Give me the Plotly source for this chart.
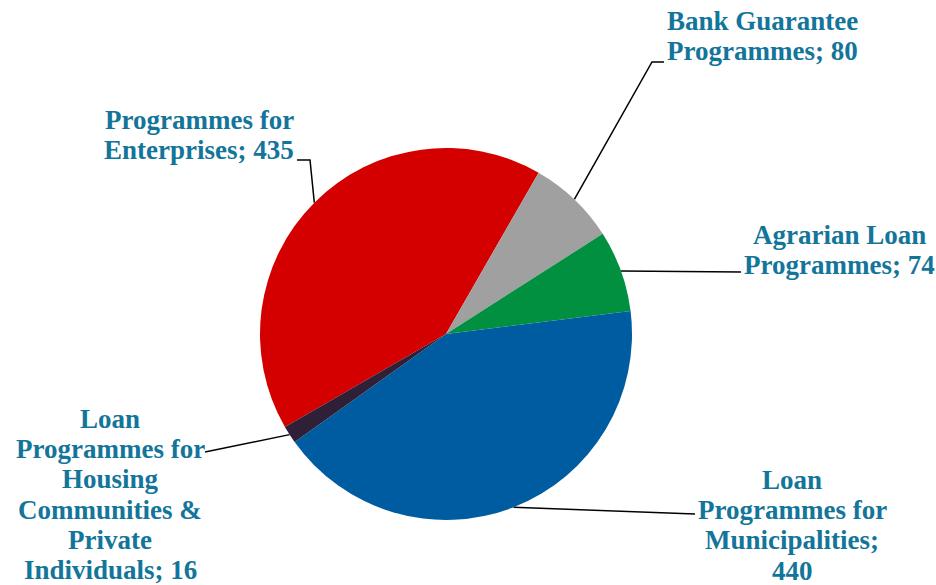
import numpy as np
import plotly.graph_objects as go

# ---- data ----
categories = ["Programmes for Enterprises", "Bank Guarantee Programmes",
              "Agrarian Loan Programmes", "Loan Programmes for Municipalities",
              "Loan Programmes for Housing Communities & Private Individuals"]
values = [435, 80, 74, 440, 16]
colors = ["#D40000", "#A0A0A0", "#009040", "#005CA0", "#2F1F37"]
label_lines = [
    ["Programmes for", "Enterprises; 435"],
    ["Bank Guarantee", "Programmes; 80"],
    ["Agrarian Loan", "Programmes; 74"],
    ["Loan", "Programmes for", "Municipalities;", "440"],
    ["Loan", "Programmes for", "Housing", "Communities &", "Private", "Individuals; 16"],
]

W, H = 936, 585
cx, cy, r = 446, 334, 186
rotation = -120  # start angle (deg clockwise from 12 o'clock)

# label layout (pixel space): centre x, first line y, line gap
label_pos = [(199, 120), (762, 21), (839, 235), (792, 480), (110, 419)]
line_gap = 30.2
# leader line elbows / ends (pixel space)
leader_pts = [
    [(310, 160), (297, 160)],
    [(652, 62), (664, 62)],
    [(741, 272)],
    [(695, 514)],
    [(205, 452)],
]

fig = go.Figure()

# leader lines from slice mid-angle on the rim
total = sum(values)
cum = 0
for i, v in enumerate(values):
    mid = rotation + (cum + v / 2) / total * 360
    cum += v
    a = np.deg2rad(mid)
    ax_ = cx + r * np.sin(a)
    ay_ = cy - r * np.cos(a)
    xs = [ax_] + [p[0] for p in leader_pts[i]]
    ys = [ay_] + [p[1] for p in leader_pts[i]]
    fig.add_trace(go.Scatter(x=xs, y=ys, mode="lines",
                             line=dict(color="black", width=1.5),
                             hoverinfo="skip", showlegend=False))

fig.add_trace(go.Pie(
    labels=categories, values=values, sort=False, direction="clockwise",
    rotation=rotation, textinfo="none", hoverinfo="label+value",
    marker=dict(colors=colors, line=dict(width=0)),
    domain=dict(x=[(cx - r) / W, (cx + r) / W], y=[(H - cy - r) / H, (H - cy + r) / H]),
    showlegend=False,
))

annotations = []
for lines, (x0, y0) in zip(label_lines, label_pos):
    for k, t in enumerate(lines):
        annotations.append(dict(
            x=x0, y=y0 + k * line_gap, xref="x", yref="y", text=t,
            showarrow=False, xanchor="center", yanchor="middle",
            font=dict(family="Liberation Serif", size=27, color="#13759A", weight="bold"),
        ))

fig.update_layout(
    width=W, height=H, margin=dict(l=0, r=0, t=0, b=0),
    paper_bgcolor="white", plot_bgcolor="white",
    xaxis=dict(range=[0, W], visible=False, fixedrange=True),
    yaxis=dict(range=[H, 0], visible=False, fixedrange=True),
    annotations=annotations,
)

fig.write_html("out.html")
